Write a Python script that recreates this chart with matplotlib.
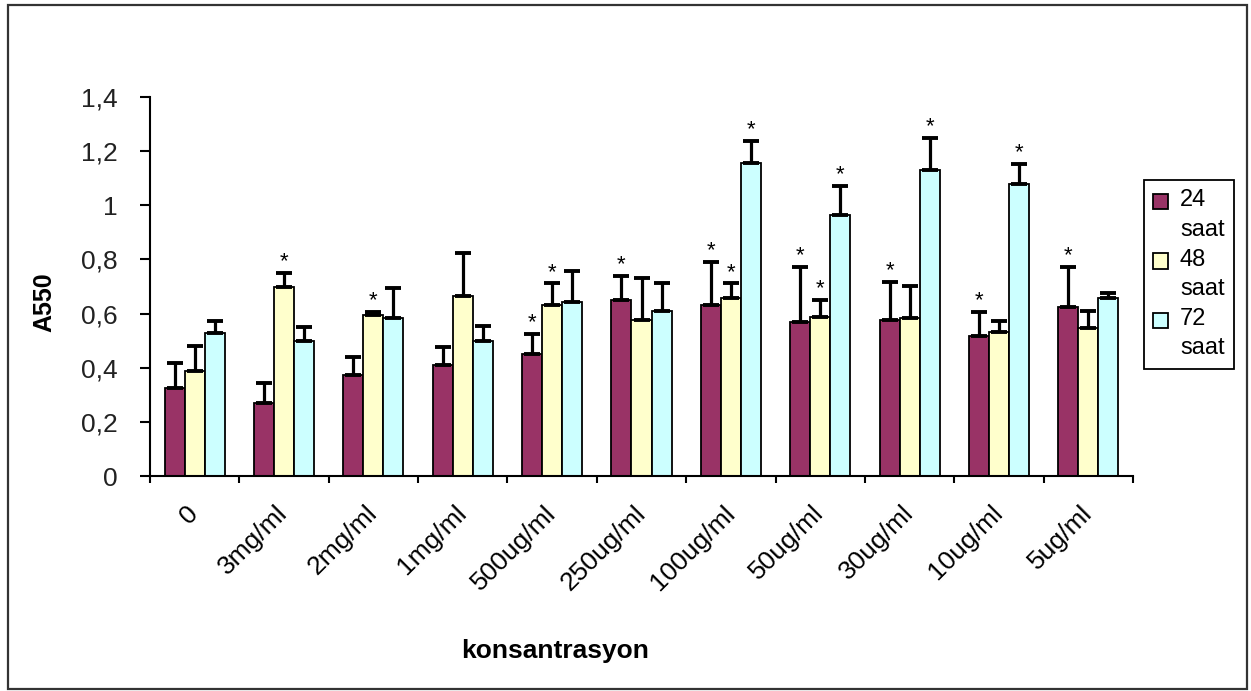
import matplotlib
matplotlib.use("Agg")
import matplotlib.pyplot as plt
import numpy as np
from matplotlib.patches import Rectangle
from matplotlib.legend_handler import HandlerPatch
from matplotlib.container import BarContainer

plt.rcParams['font.family'] = ['Liberation Sans', 'DejaVu Sans']

categories = ['0', '3mg/ml', '2mg/ml', '1mg/ml', '500ug/ml', '250ug/ml',
              '100ug/ml', '50ug/ml', '30ug/ml', '10ug/ml', '5ug/ml']
series_names = ['24\nsaat', '48\nsaat', '72\nsaat']

mean_24 = [0.325, 0.271, 0.374, 0.409, 0.451, 0.650, 0.630, 0.568, 0.576, 0.518, 0.626]
err_24 = [0.094, 0.071, 0.067, 0.066, 0.074, 0.089, 0.162, 0.205, 0.142, 0.089, 0.147]
mean_48 = [0.388, 0.699, 0.595, 0.665, 0.630, 0.576, 0.656, 0.588, 0.583, 0.533, 0.546]
err_48 = [0.093, 0.052, 0.011, 0.158, 0.082, 0.154, 0.056, 0.062, 0.119, 0.041, 0.064]
mean_72 = [0.528, 0.499, 0.583, 0.499, 0.644, 0.611, 1.157, 0.964, 1.130, 1.080, 0.656]
err_72 = [0.046, 0.050, 0.113, 0.056, 0.114, 0.101, 0.080, 0.107, 0.120, 0.073, 0.021]

star_24 = [0, 0, 0, 0, 1, 1, 1, 1, 1, 1, 1]
star_48 = [0, 1, 1, 0, 1, 0, 1, 1, 0, 0, 0]
star_72 = [0, 0, 0, 0, 0, 0, 1, 1, 1, 1, 0]

ytick_values = [0, 0.2, 0.4, 0.6, 0.8, 1.0, 1.2, 1.4]
ytick_labels = ['0', '0,2', '0,4', '0,6', '0,8', '1', '1,2', '1,4']

colors = ['#993366', '#FFFFCC', '#CCFFFF']

W, H = 1251, 691
fig = plt.figure(figsize=(W / 100, H / 100), dpi=100)
ax = fig.add_axes([150 / W, 1 - 476 / H, (1133 - 150) / W, (476 - 97) / H])

x = np.arange(len(categories))
bw = 0.224
means = [mean_24, mean_48, mean_72]
errs = [err_24, err_48, err_72]
stars = [star_24, star_48, star_72]

for i in range(3):
    xs = x + (i - 1) * bw
    ax.bar(xs, means[i], bw, color=colors[i], edgecolor='black', linewidth=1.3,
           label=series_names[i], zorder=2)
    ax.errorbar(xs, means[i], yerr=[np.zeros(len(x)), errs[i]], fmt='none',
                ecolor='black', elinewidth=2.3, capsize=5.8, capthick=2.8, zorder=3)
    for j in range(len(x)):
        if stars[i][j]:
            ax.annotate('*', (xs[j], means[i][j] + errs[i][j]), xytext=(0, 4),
                        textcoords='offset points', ha='center', va='baseline',
                        fontsize=16, color='black')

ax.set_xlim(-0.5, len(x) - 0.5)
ax.set_ylim(0, 1.4)
ax.set_yticks(ytick_values)
ax.set_yticklabels(ytick_labels)
ax.set_xticks(x)
ax.set_xticklabels(categories, rotation=45, ha='right', va='center',
                   rotation_mode='anchor')
ax.set_xticks(np.arange(len(x) + 1) - 0.5, minor=True)
ax.tick_params(axis='x', which='major', length=0, pad=24, labelsize=19)
ax.tick_params(axis='x', which='minor', length=5, width=1.5, direction='out')
ax.tick_params(axis='y', length=7, width=1.5, pad=16, labelsize=19, labelcolor='#222222')
for s in ['top', 'right']:
    ax.spines[s].set_visible(False)
for s in ['left', 'bottom']:
    ax.spines[s].set_linewidth(1.5)


def first_line_patch(legend, orig_handle, xdescent, ydescent, width, height, fontsize):
    return Rectangle((-xdescent, -ydescent + 0.58 * fontsize), width, height)


def copy_from_first_bar(legend_handle, orig_handle):
    legend_handle.update_from(orig_handle.patches[0])


leg = ax.legend(loc='upper left', bbox_to_anchor=(1144 / W, 1 - 180 / H),
                bbox_transform=fig.transFigure, fontsize=17, frameon=True,
                fancybox=False, edgecolor='black', framealpha=1,
                handlelength=0.62, handleheight=0.62, handletextpad=0.5,
                labelspacing=0.35, borderpad=0.4, borderaxespad=0,
                handler_map={BarContainer: HandlerPatch(patch_func=first_line_patch,
                                                        update_func=copy_from_first_bar)})
leg.get_frame().set_linewidth(1.3)
for t in leg.get_texts():
    t.set_linespacing(1.42)

fig.text(44 / W, 1 - 302 / H, 'A550', rotation=90, ha='center', va='center',
         fontsize=18, fontweight='bold')
fig.text(555 / W, 33 / H, 'konsantrasyon', ha='center', va='baseline',
         fontsize=19, fontweight='bold')

fig.patches.append(Rectangle((8 / W, 1 - 689 / H), (1247 - 8) / W, (689 - 5) / H,
                             transform=fig.transFigure, fill=False,
                             edgecolor='#333333', linewidth=1.6))

fig.savefig('out.png', dpi=100)
